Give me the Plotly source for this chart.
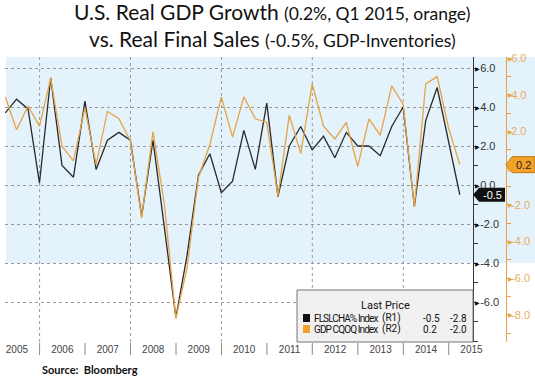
import pandas as pd
import plotly.graph_objects as go

# ---------------- data ----------------
quarters = ["2005Q1", "2005Q2", "2005Q3", "2005Q4", "2006Q1", "2006Q2", "2006Q3", "2006Q4",
            "2007Q1", "2007Q2", "2007Q3", "2007Q4", "2008Q1", "2008Q2", "2008Q3", "2008Q4",
            "2009Q1", "2009Q2", "2009Q3", "2009Q4", "2010Q1", "2010Q2", "2010Q3", "2010Q4",
            "2011Q1", "2011Q2", "2011Q3", "2011Q4", "2012Q1", "2012Q2", "2012Q3", "2012Q4",
            "2013Q1", "2013Q2", "2013Q3", "2013Q4", "2014Q1", "2014Q2", "2014Q3", "2014Q4",
            "2015Q1"]
final_sales = [3.7, 4.4, 3.9, 0.1, 5.5, 1.0, 0.4, 4.3, 0.8, 2.3, 2.7, 2.3,
               -1.6, 2.3, -2.2, -6.8, -3.6, 0.5, 1.6, -0.4, 0.2, 2.8, 0.8, 4.2,
               -0.6, 2.0, 3.0, 1.8, 2.5, 1.4, 2.7, 2.0, 2.0, 1.5, 3.0, 4.0,
               -1.1, 3.3, 5.0, 2.3, -0.5]
gdp = [3.9, 2.1, 3.4, 2.3, 4.9, 1.2, 0.4, 3.3, 0.2, 3.1, 2.7, 1.5,
       -2.7, 2.0, -2.0, -8.2, -5.4, -0.5, 1.3, 3.9, 1.7, 3.9, 2.7, 2.5,
       -1.5, 2.9, 0.8, 4.6, 2.3, 1.6, 2.5, 0.1, 2.7, 1.8, 4.5, 3.5,
       -2.1, 4.6, 5.0, 2.2, 0.2]
years = list(range(2005, 2016))
r1_ticks = [-8, -6, -4, -2, 0, 2, 4, 6]
r2_ticks = [-8, -6, -4, -2, 0, 2, 4, 6]
legend_rows = [
    {"name": "FLSLCHA% Index", "axis": "(R1)", "last": "-0.5", "other": "-2.8"},
    {"name": "GDP CQOQ Index", "axis": "(R2)", "last": "0.2", "other": "-2.0"},
]
title1 = "U.S. Real GDP Growth"
title1b = "(0.2%, Q1 2015, orange)"
title2 = "vs. Real Final Sales"
title2b = "(-0.5%, GDP-Inventories)"
source = "Source:  Bloomberg"

BLACK = "#2a2a2a"
ORANGE = "#e6a447"
ORANGE_BOX = "#f3a229"
ORANGE_TXT = "#e9ad5c"

# ---------------- geometry (pixels) ----------------
W, H = 535, 378
L, R1X, R2X, T, B = 5, 473, 506, 57, 342
PW = R2X - L


def px(xp):
    return (xp - L) / PW


def py(yp):
    return (B - yp) / (B - T)


dates = [pd.Period(q, freq="Q").end_time.normalize() for q in quarters]

r1_range = [(185 - B) / 19.5, (185 - T) / 19.5]
r2_range = [(168.3 - B) / 18.33, (168.3 - T) / 18.33]

fig = go.Figure()
fig.add_trace(go.Scatter(x=dates, y=final_sales, mode="lines", yaxis="y",
                         line=dict(color=BLACK, width=1.3), showlegend=False,
                         name="FLSLCHA% Index"))
fig.add_trace(go.Scatter(x=dates, y=gdp, mode="lines", yaxis="y2",
                         line=dict(color=ORANGE, width=1.3), showlegend=False,
                         name="GDP CQOQ Index"))

shapes = []
# light blue band above -4 on R1
shapes.append(dict(type="rect", xref="paper", yref="y", x0=px(6), x1=px(W),
                   y0=-4, y1=r1_range[1], fillcolor="#e4f2fb", line_width=0,
                   layer="below"))
# vertical dotted gridlines every 2 years
for yr in years[1::2]:
    shapes.append(dict(type="line", xref="x", yref="paper",
                       x0=f"{yr}-01-01", x1=f"{yr}-01-01", y0=0, y1=1,
                       line=dict(color="#9a9a9a", width=1, dash="dot"),
                       layer="below"))
# year dividers below the axis
for yr in years[1:]:
    shapes.append(dict(type="line", xref="x", yref="paper",
                       x0=f"{yr}-01-01", x1=f"{yr}-01-01", y0=py(343), y1=py(355),
                       line=dict(color="#8a8a8a", width=1)))
# legend box
shapes.append(dict(type="rect", xref="paper", yref="paper", x0=px(297), x1=px(473),
                   y0=py(342), y1=py(290), fillcolor="#f1f1f1",
                   line=dict(color="#777", width=1), layer="above"))
shapes.append(dict(type="rect", xref="paper", yref="paper", x0=px(303), x1=px(310),
                   y0=py(322), y1=py(314), fillcolor="#111", line_width=0, layer="above"))
shapes.append(dict(type="rect", xref="paper", yref="paper", x0=px(303), x1=px(310),
                   y0=py(333), y1=py(325), fillcolor=ORANGE_BOX, line_width=0, layer="above"))

# last value boxes (pointed)
v1 = final_sales[-1]
h1 = 7 / 19.5
shapes.append(dict(type="path", xref="paper", yref="y",
                   path=(f"M {px(473)},{v1} L {px(479)},{v1 + h1} L {px(505)},{v1 + h1} "
                         f"L {px(505)},{v1 - h1} L {px(479)},{v1 - h1} Z"),
                   fillcolor="#111", line_width=0, layer="above"))
v2 = gdp[-1]
h2 = 8 / 18.33
shapes.append(dict(type="path", xref="paper", yref="y2",
                   path=(f"M {px(506)},{v2} L {px(512)},{v2 + h2} L {px(535)},{v2 + h2} "
                         f"L {px(535)},{v2 - h2} L {px(512)},{v2 - h2} Z"),
                   fillcolor=ORANGE_BOX, line=dict(color="#c07a10", width=1), layer="above"))

ann = []
TF = "Lato, Open Sans, sans-serif"
ann.append(dict(text=f"{title1} <span style='font-size:17.5px'>{title1b}</span>",
                xref="paper", yref="paper", x=px(272), y=py(12), showarrow=False,
                xanchor="center", yanchor="middle",
                font=dict(family=TF, size=21, color="#111")))
ann.append(dict(text=f"{title2} <span style='font-size:17.5px'>{title2b}</span>",
                xref="paper", yref="paper", x=px(272), y=py(38), showarrow=False,
                xanchor="center", yanchor="middle",
                font=dict(family=TF, size=21, color="#111")))
ann.append(dict(text=f"<b>{source}</b>", xref="paper", yref="paper", x=px(40), y=py(369),
                showarrow=False, xanchor="left", yanchor="middle",
                font=dict(family=TF, size=11, color="#111")))
# legend texts
LF = "Roboto, Liberation Sans, sans-serif"
ann.append(dict(text="Last Price", xref="paper", yref="paper", x=px(385), y=py(305),
                showarrow=False, xanchor="center", yanchor="middle",
                font=dict(family=LF, size=11, color="#111")))
for i, row in enumerate(legend_rows):
    yy = py(318 + 11 * i)
    for key, xx in (("name", 312), ("axis", 380), ("last", 421), ("other", 448)):
        txt = row[key]
        if key == "name":
            txt = f"<span style='letter-spacing:-0.9px'>{txt}</span>"
        ann.append(dict(text=txt, xref="paper", yref="paper", x=px(xx), y=yy,
                        showarrow=False, xanchor="left", yanchor="middle",
                        font=dict(family=LF, size=10, color="#111")))
# last value labels
ann.append(dict(text=f"{v1:.1f}", xref="paper", yref="y", x=px(492), y=v1, showarrow=False,
                xanchor="center", yanchor="middle",
                font=dict(family="Liberation Sans, Arial", size=11, color="white")))
ann.append(dict(text=f"{v2:.1f}", xref="paper", yref="y2", x=px(523), y=v2, showarrow=False,
                xanchor="center", yanchor="middle",
                font=dict(family="Liberation Sans, Arial", size=11, color="#222")))
# triangle tick markers
for t in r1_ticks[1:]:
    ann.append(dict(text="\u25B6", xref="paper", yref="y", x=px(473), y=t, showarrow=False,
                    xanchor="left", yanchor="middle",
                    font=dict(family="DejaVu Sans", size=6, color="#111")))
for t in r2_ticks:
    ann.append(dict(text="\u25B6", xref="paper", yref="y2", x=px(506), y=t, showarrow=False,
                    xanchor="left", yanchor="middle",
                    font=dict(family="DejaVu Sans", size=6, color=ORANGE)))

fig.update_layout(
    width=W, height=H,
    margin=dict(l=L, r=W - R2X, t=T, b=H - B),
    paper_bgcolor="white", plot_bgcolor="rgba(0,0,0,0)",
    showlegend=False,
    shapes=shapes, annotations=ann,
    xaxis=dict(domain=[0, px(R1X)], type="date",
               range=[pd.Timestamp("2005-03-29"), pd.Timestamp("2015-07-15")],
               tick0="2005-01-01", dtick="M12", ticklabelmode="period", tickformat="%Y",
               ticks="", showgrid=False,
               showline=False, zeroline=False, automargin=False,
               tickfont=dict(family="Liberation Sans, Arial", size=10, color="#444")),
    yaxis=dict(side="right", anchor="x", range=r1_range,
               tickvals=r1_ticks, ticktext=["" if t == -8 else f"{t:.1f}" for t in r1_ticks],
               ticks="outside", ticklen=4, tickcolor="rgba(0,0,0,0)",
               minor=dict(dtick=1, tick0=0, ticks="outside", ticklen=4, tickcolor="#333",
                          showgrid=False),
               showgrid=True, gridcolor="#9a9a9a", griddash="dot", gridwidth=1,
               showline=True, linecolor="#333", linewidth=1, zeroline=False,
               automargin=False,
               tickfont=dict(family="Liberation Sans, Arial", size=11, color="#333")),
    yaxis2=dict(side="right", overlaying="y", anchor="free", position=1.0,
                range=r2_range, tickvals=r2_ticks,
                ticktext=["" if t == 0 else f"{t:.1f}" for t in r2_ticks],
                ticks="outside", ticklen=2, tickcolor="rgba(0,0,0,0)",
                minor=dict(dtick=1, tick0=0, ticks="outside", ticklen=4, tickcolor=ORANGE,
                           showgrid=False),
                showgrid=False, showline=True, linecolor=ORANGE, linewidth=1,
                zeroline=False, automargin=False,
                tickfont=dict(family="Liberation Sans, Arial", size=11, color=ORANGE_TXT)),
)

fig.write_html("out.html", config={"displayModeBar": False},
               post_script="document.body.style.margin='0';document.body.style.overflow='hidden';")
